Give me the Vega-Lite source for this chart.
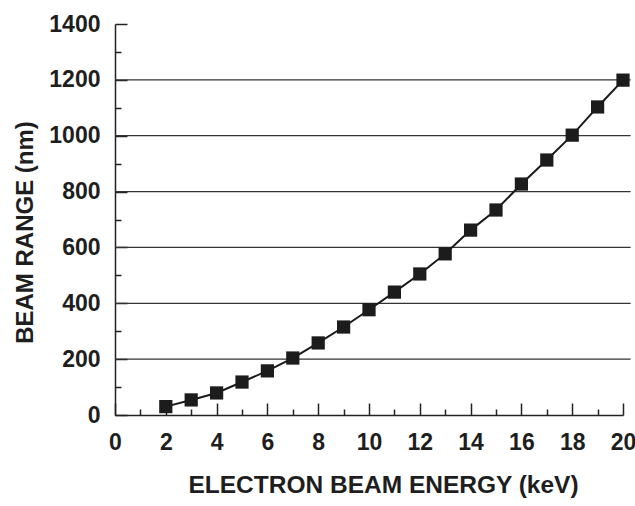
{
  "$schema": "https://vega.github.io/schema/vega-lite/v6.json",
  "width": 508,
  "height": 391,
  "autosize": {"type": "none"},
  "padding": {"left": 115, "top": 24, "right": 12, "bottom": 91},
  "background": "white",
  "config": {
    "view": {"stroke": null},
    "font": "Liberation Sans",
    "axis": {
      "labelFont": "Liberation Sans",
      "labelFontWeight": "bold",
      "labelFontSize": 23,
      "labelColor": "#1e1e1e",
      "labelFlush": false,
      "titleFont": "Liberation Sans",
      "titleFontWeight": "bold",
      "titleColor": "#1e1e1e",
      "domainColor": "#222222",
      "domainWidth": 1.5,
      "tickColor": "#222222",
      "tickWidth": 1.5,
      "grid": false
    }
  },
  "data": {
    "values": [
      {"energy": 2, "range": 30},
      {"energy": 3, "range": 54},
      {"energy": 4, "range": 79},
      {"energy": 5, "range": 118},
      {"energy": 6, "range": 158},
      {"energy": 7, "range": 204},
      {"energy": 8, "range": 258},
      {"energy": 9, "range": 315},
      {"energy": 10, "range": 377},
      {"energy": 11, "range": 440},
      {"energy": 12, "range": 505},
      {"energy": 13, "range": 577},
      {"energy": 14, "range": 662},
      {"energy": 15, "range": 734},
      {"energy": 16, "range": 827},
      {"energy": 17, "range": 913},
      {"energy": 18, "range": 1002},
      {"energy": 19, "range": 1103},
      {"energy": 20, "range": 1199}
    ]
  },
  "layer": [
    {
      "data": {"values": [{"g": 200}, {"g": 400}, {"g": 600}, {"g": 800}, {"g": 1000}, {"g": 1200}]},
      "mark": {"type": "rule", "color": "#333333", "strokeWidth": 1.3},
      "encoding": {
        "y": {
          "field": "g", "type": "quantitative",
          "scale": {"domain": [0, 1400], "nice": false, "zero": true},
          "axis": {"orient": "left", "values": [100, 300, 500, 700, 900, 1100, 1300], "tickSize": -6, "labels": false, "domain": false, "title": null}
        },
        "x": {
          "datum": 0, "type": "quantitative",
          "scale": {"domain": [0, 20], "nice": false},
          "axis": {"orient": "bottom", "values": [1, 3, 5, 7, 9, 11, 13, 15, 17, 19], "tickSize": -6, "labels": false, "domain": false, "title": null}
        },
        "x2": {"datum": 20.3}
      }
    },
    {
      "mark": {"type": "line", "color": "#1a1a1a", "strokeWidth": 2},
      "encoding": {
        "x": {
          "field": "energy", "type": "quantitative",
          "scale": {"domain": [0, 20], "nice": false},
          "axis": {
            "orient": "bottom",
            "values": [0, 2, 4, 6, 8, 10, 12, 14, 16, 18, 20],
            "format": "d",
            "tickSize": -12, "labelPadding": 28,
            "title": "ELECTRON BEAM ENERGY (keV)",
            "titleFontSize": 24.5, "titlePadding": 19,
            "titleX": 268
          }
        },
        "y": {
          "field": "range", "type": "quantitative",
          "scale": {"domain": [0, 1400], "nice": false},
          "axis": {
            "orient": "left",
            "values": [0, 200, 400, 600, 800, 1000, 1200, 1400],
            "format": "d",
            "tickSize": -12, "labelPadding": 27,
            "title": "BEAM RANGE (nm)",
            "titleFontSize": 24, "titlePadding": 11,
            "titleY": 208
          }
        }
      }
    },
    {
      "mark": {"type": "square", "size": 175, "filled": true, "color": "#1c1c1c", "opacity": 1},
      "encoding": {
        "x": {"field": "energy", "type": "quantitative", "axis": null},
        "y": {"field": "range", "type": "quantitative", "axis": null}
      }
    }
  ],
  "resolve": {"axis": {"x": "independent", "y": "independent"}}
}
